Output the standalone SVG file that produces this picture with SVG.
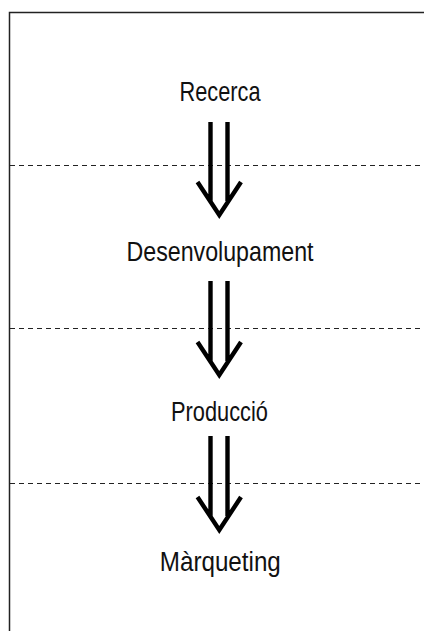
<svg xmlns="http://www.w3.org/2000/svg" width="424" height="631" viewBox="0 0 424 631">
<style>
.lbl{font-family:"Liberation Sans",Arial,sans-serif;font-size:27.5px;fill:#111;text-anchor:middle}
.frame{fill:none;stroke:#222;stroke-width:1.5}
.dash{fill:none;stroke:#222;stroke-width:1;stroke-dasharray:5 4}
.arr{fill:none;stroke:#000;stroke-width:4.4;stroke-linejoin:miter;stroke-miterlimit:10}
</style>
<rect width="424" height="631" fill="#fff"/>
<path class="frame" d="M9.5 631 V12.5 H424"/>
<g id="dividers">
<line class="dash" x1="10" y1="165.5" x2="424" y2="165.5"/>
<line class="dash" x1="10" y1="328.5" x2="424" y2="328.5"/>
<line class="dash" x1="10" y1="483.5" x2="424" y2="483.5"/>
</g>
<g id="n1"><text class="lbl" x="220" y="101" textLength="81" lengthAdjust="spacingAndGlyphs">Recerca</text></g>
<g id="n2"><text class="lbl" x="220" y="260.5" textLength="187" lengthAdjust="spacingAndGlyphs">Desenvolupament</text></g>
<g id="n3"><text class="lbl" x="219.5" y="421" textLength="97" lengthAdjust="spacingAndGlyphs">Producció</text></g>
<g id="n4"><text class="lbl" x="220.3" y="571" textLength="121" lengthAdjust="spacingAndGlyphs">Màrqueting</text></g>
<g id="connectors">
<g transform="translate(0,-160)">
<path class="arr" d="M210.5 282 V361 M227.5 282 V361 M197.5 342 L219.3 375 L241 342"/>
</g>
<g>
<path class="arr" d="M210.5 281 V361 M227.5 281 V361 M197.5 342 L219.3 375 L241 342"/>
</g>
<g transform="translate(0,155)">
<path class="arr" d="M210.5 281 V361 M227.5 281 V361 M197.5 342 L219.3 375 L241 342"/>
</g>
</g>
</svg>
